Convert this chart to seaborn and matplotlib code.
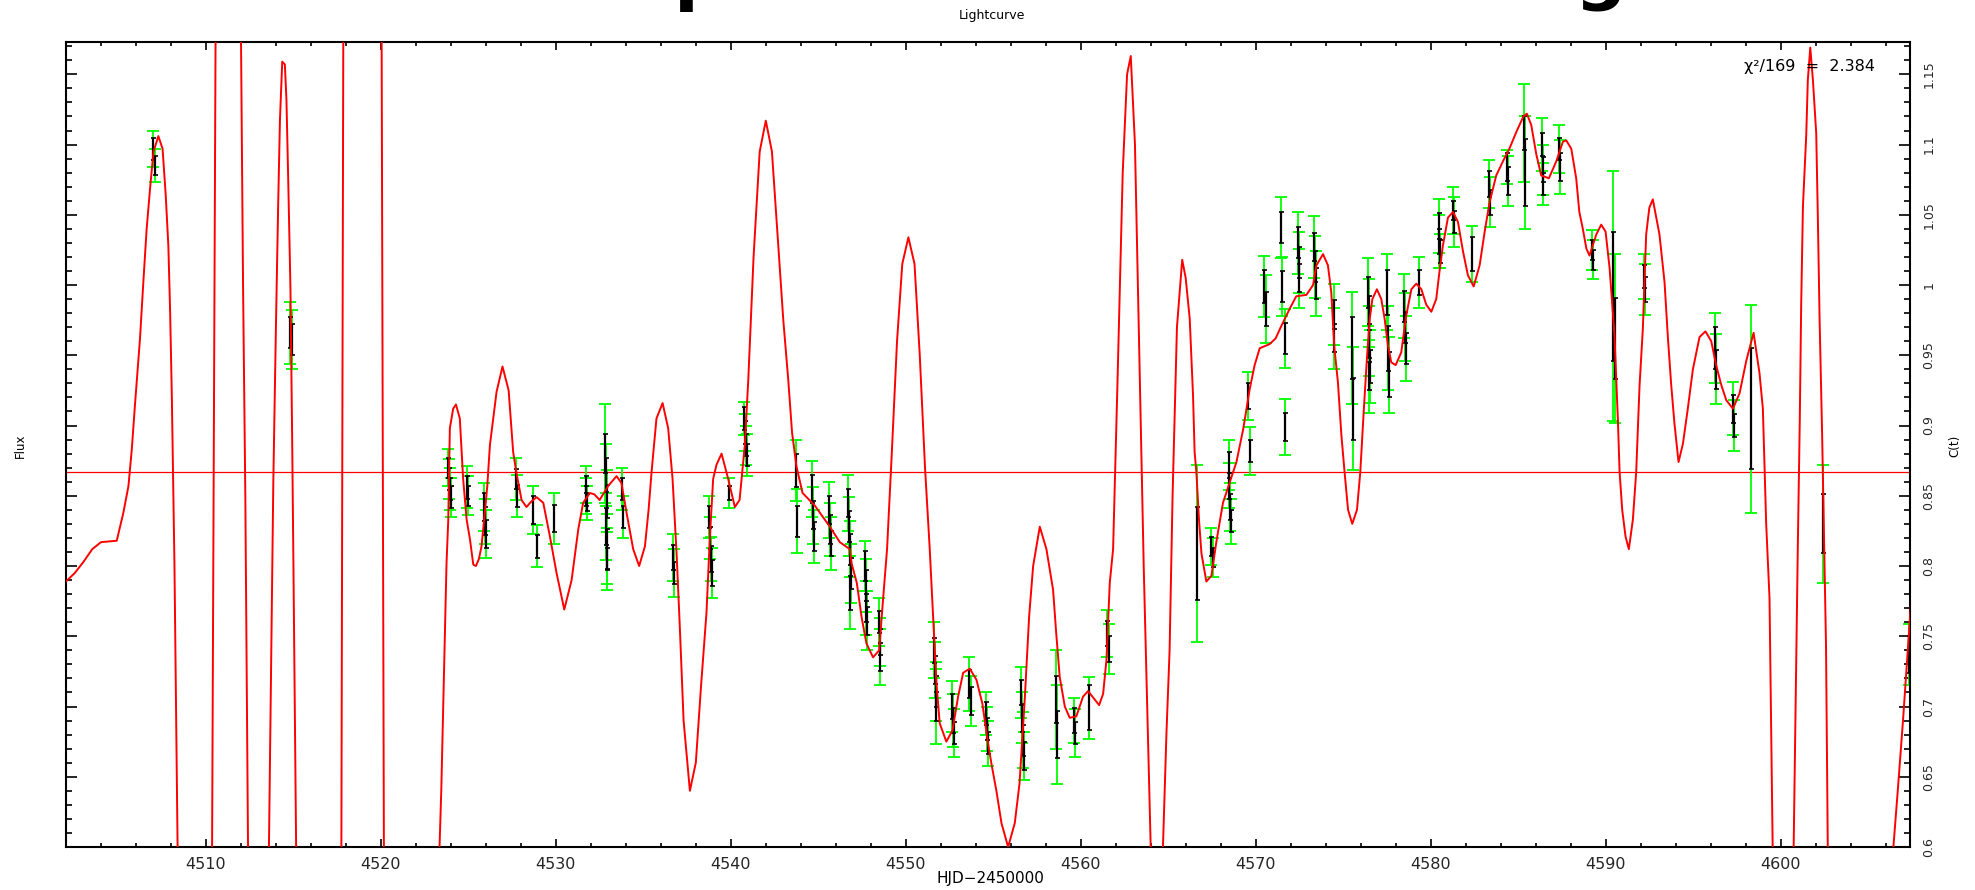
import numpy as np
import matplotlib
matplotlib.use("Agg")
import matplotlib.pyplot as plt
import seaborn as sns
from matplotlib.ticker import MultipleLocator, FuncFormatter

# ---- observations: time, flux, statistical error (black), total error (green)
obs_hjd = [
    4507.0, 4507.1,
    4514.8, 4514.9,
    4523.85, 4523.9, 4523.95, 4524.0, 4524.9, 4524.95,
    4525.9, 4525.95, 4526.0, 4527.7, 4527.8, 4528.7, 4528.9, 4529.9,
    4531.7, 4531.75, 4531.8, 4532.8, 4532.85, 4532.9, 4532.85, 4532.9, 4532.95,
    4533.8, 4533.85, 4536.7, 4536.75,
    4538.75, 4538.8, 4538.85, 4538.9, 4539.9,
    4540.75, 4540.8, 4540.85, 4540.9,
    4543.7, 4543.8, 4544.65, 4544.7, 4544.75, 4545.6, 4545.65, 4545.7,
    4546.7, 4546.75, 4546.8, 4546.85, 4546.8,
    4547.65, 4547.7, 4547.75, 4547.8, 4548.45, 4548.5, 4548.55,
    4551.6, 4551.65, 4551.7, 4551.75, 4552.65, 4552.7, 4552.75,
    4553.6, 4553.7, 4554.6, 4554.65, 4554.7,
    4556.6, 4556.65, 4556.7, 4556.75, 4558.6, 4558.65,
    4559.6, 4559.7, 4560.5, 4561.5, 4561.6,
    4566.65, 4567.45, 4567.55,
    4568.45, 4568.5, 4568.55, 4568.6, 4569.55, 4569.65,
    4570.5, 4570.6, 4571.45, 4571.5, 4571.65, 4571.7,
    4572.4, 4572.45, 4572.5, 4573.35, 4573.4, 4573.45,
    4574.45, 4574.5, 4575.5, 4575.55,
    4576.4, 4576.45, 4576.5, 4576.55, 4576.5,
    4577.5, 4577.55, 4577.6, 4578.5, 4578.55, 4578.6, 4579.35,
    4580.45, 4580.5, 4580.55, 4581.3, 4581.35, 4582.35,
    4583.35, 4583.4, 4584.35, 4584.4, 4585.35, 4585.4,
    4586.35, 4586.4, 4586.45, 4587.35, 4587.4,
    4589.25, 4589.3, 4590.4, 4590.55, 4592.2, 4592.25,
    4596.25, 4596.3, 4597.3, 4597.35, 4598.3, 4602.45,
    4607.35,
]
obs_flux = [
    1.097, 1.085,
    0.966, 0.961,
    0.870, 0.862, 0.855, 0.849, 0.856, 0.850,
    0.842, 0.832, 0.823, 0.862, 0.850, 0.840, 0.814, 0.834,
    0.858, 0.850, 0.845, 0.880, 0.865, 0.846, 0.828, 0.812, 0.805,
    0.855, 0.835, 0.806, 0.795,
    0.835, 0.820, 0.805, 0.795, 0.852,
    0.905, 0.895, 0.886, 0.879,
    0.868, 0.832, 0.855, 0.836, 0.821, 0.840, 0.826, 0.816,
    0.845, 0.828, 0.812, 0.795, 0.781,
    0.800, 0.786, 0.770, 0.761, 0.760, 0.746, 0.735,
    0.740, 0.726, 0.711, 0.700, 0.700, 0.690, 0.681,
    0.716, 0.704, 0.695, 0.684, 0.674,
    0.710, 0.692, 0.676, 0.665, 0.705, 0.680,
    0.690, 0.681, 0.699, 0.752, 0.741,
    0.809, 0.814, 0.806,
    0.872, 0.857, 0.842, 0.832, 0.921, 0.882,
    0.999, 0.983, 1.041, 0.999, 0.962, 0.899,
    1.030, 1.016, 1.005, 1.027, 1.013, 1.001,
    0.979, 0.962, 0.955, 0.912,
    0.995, 0.980, 0.960, 0.942, 0.935,
    0.995, 0.955, 0.936, 0.985, 0.970, 0.955, 1.002,
    1.042, 1.031, 1.024, 1.053, 1.045, 1.022,
    1.072, 1.059, 1.084, 1.074, 1.108, 1.080,
    1.100, 1.082, 1.072, 1.097, 1.084,
    1.025, 1.018, 0.992, 0.962, 1.006, 0.997,
    0.955, 0.940, 0.912, 0.900, 0.912, 0.830,
    0.737,
]
obs_err_stat = [
    0.008, 0.007,
    0.011, 0.011,
    0.007, 0.008, 0.008, 0.008, 0.008, 0.007,
    0.010, 0.010, 0.010, 0.007, 0.008, 0.010, 0.008, 0.0095,
    0.006, 0.007, 0.006, 0.014, 0.012, 0.012, 0.013, 0.014, 0.008,
    0.008, 0.008, 0.009, 0.008,
    0.008, 0.008, 0.009, 0.009, 0.005,
    0.008, 0.008, 0.008, 0.008,
    0.012, 0.011, 0.010, 0.010, 0.010, 0.010, 0.010, 0.009,
    0.010, 0.011, 0.011, 0.011, 0.012,
    0.011, 0.011, 0.010, 0.010, 0.008, 0.009, 0.010,
    0.009, 0.010, 0.011, 0.010, 0.009, 0.009, 0.008,
    0.010, 0.010, 0.008, 0.008, 0.008,
    0.009, 0.010, 0.011, 0.010, 0.017, 0.017,
    0.009, 0.008, 0.016, 0.009, 0.009,
    0.033, 0.007, 0.007,
    0.009, 0.009, 0.009, 0.008, 0.009, 0.008,
    0.012, 0.012, 0.011, 0.011, 0.011, 0.010,
    0.011, 0.011, 0.010, 0.010, 0.011, 0.011,
    0.010, 0.010, 0.022, 0.022,
    0.011, 0.012, 0.012, 0.012, 0.010,
    0.016, 0.016, 0.016, 0.011, 0.011, 0.011, 0.009,
    0.009, 0.009, 0.008, 0.007, 0.008, 0.012,
    0.009, 0.009, 0.010, 0.010, 0.012, 0.024,
    0.008, 0.009, 0.008, 0.008, 0.010,
    0.007, 0.007, 0.046, 0.029, 0.008, 0.009,
    0.015, 0.014, 0.010, 0.008, 0.043, 0.021,
    0.0135,
]
obs_err_total = [
    0.013, 0.012,
    0.022, 0.021,
    0.013, 0.014, 0.015, 0.014, 0.015, 0.014,
    0.017, 0.016, 0.017, 0.015, 0.015, 0.017, 0.015, 0.018,
    0.013, 0.013, 0.012, 0.035, 0.022, 0.022, 0.024, 0.025, 0.022,
    0.015, 0.015, 0.017, 0.017,
    0.015, 0.015, 0.016, 0.018, 0.011,
    0.012, 0.013, 0.014, 0.015,
    0.022, 0.023, 0.020, 0.020, 0.019, 0.020, 0.019, 0.019,
    0.020, 0.021, 0.020, 0.021, 0.026,
    0.018, 0.019, 0.019, 0.021, 0.017, 0.017, 0.020,
    0.020, 0.020, 0.021, 0.027, 0.018, 0.019, 0.017,
    0.019, 0.018, 0.015, 0.016, 0.016,
    0.018, 0.018, 0.020, 0.017, 0.035, 0.035,
    0.016, 0.017, 0.022, 0.017, 0.018,
    0.063, 0.013, 0.014,
    0.018, 0.016, 0.017, 0.016, 0.017, 0.017,
    0.022, 0.024, 0.022, 0.021, 0.021, 0.020,
    0.022, 0.022, 0.021, 0.022, 0.022, 0.023,
    0.022, 0.022, 0.040, 0.044,
    0.024, 0.024, 0.025, 0.026, 0.026,
    0.027, 0.030, 0.027, 0.023, 0.024, 0.023, 0.018,
    0.019, 0.019, 0.012, 0.017, 0.018, 0.020,
    0.017, 0.018, 0.012, 0.018, 0.035, 0.040,
    0.019, 0.018, 0.015, 0.017, 0.019,
    0.014, 0.014, 0.089, 0.060, 0.016, 0.018,
    0.025, 0.025, 0.019, 0.018, 0.074, 0.042,
    0.022,
]

# ---- fitted model curve (knots), extremes run off the plotted range
model_hjd = [
    4502.0, 4502.5, 4503.0, 4503.5, 4504.0, 4504.9, 4505.28, 4505.57, 4505.76,
    4505.95, 4506.23, 4506.42, 4506.61, 4506.8, 4507.0, 4507.28, 4507.52,
    4507.7, 4507.85, 4507.95, 4508.05, 4508.13, 4508.2, 4508.38, 4509.3,
    4510.35, 4510.55, 4511.3, 4512.0, 4512.12, 4512.25, 4512.4, 4513.0,
    4513.6, 4513.85, 4514.0, 4514.13, 4514.23, 4514.36, 4514.51, 4514.6,
    4514.7, 4514.83, 4514.93, 4515.0, 4515.15, 4516.4, 4517.74, 4517.85,
    4519.0, 4520.04, 4520.17, 4521.8, 4523.35, 4523.45, 4523.66, 4523.75,
    4523.85, 4523.94, 4524.13, 4524.29, 4524.51, 4524.7, 4524.9, 4525.09,
    4525.28, 4525.43, 4525.6, 4525.75, 4525.94, 4526.08, 4526.23, 4526.42,
    4526.61, 4526.95, 4527.3, 4527.56, 4527.75, 4528.04, 4528.32, 4528.6,
    4528.9, 4529.28, 4529.66, 4530.04, 4530.48, 4530.9, 4531.28, 4531.56,
    4531.94, 4532.2, 4532.5, 4532.99, 4533.47, 4533.75, 4534.04, 4534.42,
    4534.76, 4535.09, 4535.3, 4535.47, 4535.75, 4536.1, 4536.42, 4536.67,
    4536.9, 4537.09, 4537.3, 4537.66, 4538.0, 4538.3, 4538.61, 4538.8,
    4538.99, 4539.18, 4539.47, 4539.85, 4540.23, 4540.5, 4540.8, 4541.0,
    4541.3, 4541.65, 4542.0, 4542.35, 4542.7, 4543.0, 4543.28, 4543.5,
    4543.75, 4544.1, 4544.8, 4545.66, 4546.23, 4546.8, 4546.9, 4547.2,
    4547.47, 4547.75, 4548.13, 4548.48, 4548.7, 4548.93, 4549.2, 4549.5,
    4549.8, 4550.15, 4550.5, 4550.8, 4551.1, 4551.37, 4551.56, 4551.75,
    4551.94, 4552.32, 4552.67, 4552.99, 4553.28, 4553.66, 4554.04, 4554.38,
    4554.7, 4554.9, 4555.18, 4555.47, 4555.85, 4556.23, 4556.5, 4556.8,
    4557.05, 4557.28, 4557.66, 4558.04, 4558.42, 4558.6, 4558.8, 4559.09,
    4559.37, 4559.75, 4560.13, 4560.42, 4560.8, 4561.05, 4561.28, 4561.47,
    4561.66, 4561.85, 4562.1, 4562.4, 4562.65, 4562.86, 4563.1, 4563.35,
    4563.6, 4563.8, 4564.0, 4564.35, 4564.7, 4564.9, 4565.08, 4565.25,
    4565.5, 4565.8, 4566.0, 4566.23, 4566.42, 4566.51, 4566.61, 4566.76,
    4566.9, 4567.18, 4567.47, 4567.75, 4568.13, 4568.5, 4568.9, 4569.28,
    4569.66, 4569.94, 4570.23, 4570.8, 4571.14, 4571.47, 4571.94, 4572.32,
    4572.9, 4573.28, 4573.47, 4573.85, 4574.13, 4574.32, 4574.5, 4574.7,
    4574.9, 4575.08, 4575.28, 4575.52, 4575.79, 4575.98, 4576.17, 4576.36,
    4576.52, 4576.67, 4576.93, 4577.18, 4577.37, 4577.56, 4577.75, 4578.0,
    4578.32, 4578.6, 4578.9, 4579.18, 4579.47, 4579.75, 4580.04, 4580.32,
    4580.5, 4580.7, 4580.99, 4581.28, 4581.56, 4581.85, 4582.13, 4582.46,
    4582.8, 4583.09, 4583.37, 4583.75, 4584.13, 4584.5, 4584.9, 4585.3,
    4585.5, 4585.75, 4586.04, 4586.32, 4586.76, 4587.18, 4587.56, 4587.75,
    4588.04, 4588.32, 4588.5, 4588.7, 4588.9, 4589.08, 4589.47, 4589.75,
    4590.0, 4590.23, 4590.51, 4590.7, 4590.8, 4590.95, 4591.14, 4591.33,
    4591.56, 4591.75, 4591.94, 4592.13, 4592.32, 4592.5, 4592.7, 4593.08,
    4593.37, 4593.56, 4593.75, 4593.94, 4594.17, 4594.42, 4594.7, 4594.99,
    4595.37, 4595.71, 4596.04, 4596.32, 4596.61, 4596.9, 4597.28, 4597.66,
    4598.04, 4598.46, 4598.8, 4598.99, 4599.18, 4599.37, 4599.55, 4600.15,
    4600.75, 4600.99, 4601.1, 4601.18, 4601.28, 4601.47, 4601.56, 4601.7,
    4601.85, 4602.04, 4602.13, 4602.23, 4602.38, 4602.51, 4602.6, 4602.7,
    4604.6, 4606.45, 4606.7, 4607.0, 4607.3, 4607.6,
]
model_flux = [
    0.789, 0.795, 0.803, 0.812, 0.817, 0.818, 0.838, 0.857, 0.883,
    0.916, 0.962, 1.002, 1.040, 1.068, 1.095, 1.106, 1.097,
    1.064, 1.028, 0.982, 0.920, 0.855, 0.800, 0.600, -0.5,
    0.600, 1.180, 2.2, 1.180, 1.000, 0.850, 0.600, -0.2,
    0.600, 0.860, 0.971, 1.059, 1.118, 1.159, 1.157, 1.132,
    1.076, 0.997, 0.887, 0.800, 0.600, -0.8, 0.600, 1.180,
    2.5, 1.180, 0.600, -0.8, 0.600, 0.640, 0.755, 0.802,
    0.833, 0.898, 0.912, 0.915, 0.905, 0.862, 0.833, 0.819,
    0.801, 0.800, 0.805, 0.814, 0.838, 0.857, 0.886, 0.905,
    0.924, 0.942, 0.925, 0.881, 0.866, 0.847, 0.842, 0.846,
    0.849, 0.845, 0.821, 0.795, 0.769, 0.790, 0.826, 0.845,
    0.852, 0.851, 0.847, 0.857, 0.864, 0.859, 0.838, 0.812,
    0.800, 0.814, 0.840, 0.867, 0.905, 0.916, 0.898, 0.862,
    0.809, 0.755, 0.690, 0.640, 0.660, 0.715, 0.767, 0.820,
    0.862, 0.872, 0.880, 0.862, 0.842, 0.847, 0.886, 0.933,
    1.020, 1.095, 1.117, 1.095, 1.030, 0.975, 0.933, 0.895,
    0.871, 0.852, 0.843, 0.828, 0.817, 0.812, 0.802, 0.788,
    0.764, 0.745, 0.735, 0.740, 0.776, 0.812, 0.880, 0.960,
    1.015, 1.034, 1.015, 0.950, 0.870, 0.812, 0.764, 0.717,
    0.688, 0.675, 0.683, 0.707, 0.724, 0.727, 0.719, 0.702,
    0.674, 0.659, 0.640, 0.617, 0.600, 0.617, 0.645, 0.705,
    0.764, 0.800, 0.828, 0.812, 0.783, 0.752, 0.721, 0.700,
    0.692, 0.693, 0.707, 0.711, 0.705, 0.701, 0.709, 0.733,
    0.788, 0.812, 0.930, 1.080, 1.150, 1.163, 1.100, 0.950,
    0.800, 0.700, 0.600, 0.520, 0.600, 0.681, 0.740, 0.850,
    0.970, 1.018, 1.005, 0.976, 0.921, 0.881, 0.867, 0.833,
    0.809, 0.789, 0.793, 0.817, 0.845, 0.859, 0.874, 0.897,
    0.926, 0.943, 0.955, 0.958, 0.962, 0.971, 0.983, 0.992,
    0.993, 1.000, 1.014, 1.022, 1.014, 0.995, 0.955, 0.931,
    0.893, 0.867, 0.840, 0.830, 0.840, 0.867, 0.909, 0.948,
    0.976, 0.990, 0.997, 0.990, 0.976, 0.957, 0.945, 0.943,
    0.952, 0.978, 0.997, 1.001, 0.997, 0.986, 0.981, 0.990,
    1.009, 1.028, 1.048, 1.052, 1.045, 1.024, 1.007, 0.999,
    1.014, 1.038, 1.059, 1.078, 1.088, 1.097, 1.109, 1.120,
    1.122, 1.114, 1.093, 1.078, 1.076, 1.088, 1.102, 1.103,
    1.097, 1.076, 1.052, 1.040, 1.026, 1.021, 1.036, 1.043,
    1.038, 1.012, 0.964, 0.905, 0.867, 0.840, 0.821, 0.812,
    0.833, 0.867, 0.928, 0.969, 1.036, 1.055, 1.061, 1.036,
    1.002, 0.963, 0.929, 0.901, 0.874, 0.887, 0.912, 0.940,
    0.963, 0.967, 0.960, 0.943, 0.929, 0.918, 0.912, 0.923,
    0.946, 0.966, 0.937, 0.912, 0.830, 0.777, 0.600, 0.350,
    0.600, 0.816, 0.904, 0.986, 1.056, 1.107, 1.146, 1.169,
    1.146, 1.108, 1.050, 0.977, 0.892, 0.805, 0.743, 0.600,
    -0.3, 0.600, 0.640, 0.690, 0.745, 0.800,
]

mean_flux = 0.867
chi2_text = "χ²/169  =  2.384"
x_range = (4502.0, 4607.4)
y_range = (0.6, 1.173)

sns.set_theme(style="white")
plt.rcParams["font.family"] = ["DejaVu Sans"]

W, H = 1975, 890
fig = plt.figure(figsize=(W / 100, H / 100), dpi=100)
ax = fig.add_axes([66 / W, 43 / H, 1844 / W, 805 / H])

# total (outer) and statistical (inner) error bars
ax.errorbar(obs_hjd, obs_flux, yerr=obs_err_total, fmt="none", ecolor="#00ff00",
            elinewidth=1.3, capsize=4.6, capthick=1.3, zorder=2)
ax.errorbar(obs_hjd, obs_flux, yerr=obs_err_stat, fmt="none", ecolor="black",
            elinewidth=1.6, capsize=1.8, capthick=1.2, zorder=3)

# model light curve and mean level
sns.lineplot(x=model_hjd, y=model_flux, ax=ax, color="red", linewidth=1.4,
             estimator=None, sort=False, zorder=4)
ax.axhline(mean_flux, color="red", linewidth=0.9, zorder=1)

ax.set_xlim(*x_range)
ax.set_ylim(*y_range)
ax.set_xlabel("")
ax.set_ylabel("")

ax.xaxis.set_major_locator(MultipleLocator(10))
ax.xaxis.set_minor_locator(MultipleLocator(2))
ax.yaxis.set_major_locator(MultipleLocator(0.05))
ax.yaxis.set_minor_locator(MultipleLocator(0.01))
ax.xaxis.set_major_formatter(FuncFormatter(lambda v, p: f"{v:.0f}"))
ax.yaxis.set_major_formatter(FuncFormatter(lambda v, p: f"{round(v, 2):g}"))

ax.tick_params(which="both", direction="in", top=True, bottom=True,
               left=True, right=True, labelleft=False, labelright=True,
               labeltop=False, labelbottom=True, color="black", width=1.2)
ax.tick_params(axis="x", which="major", length=6, pad=7, labelsize=11.5)
ax.tick_params(axis="x", which="minor", length=3)
ax.tick_params(axis="y", which="major", length=8, pad=9, labelsize=9,
               labelrotation=90)
ax.tick_params(axis="y", which="minor", length=4)
for lbl in ax.get_yticklabels():
    lbl.set_verticalalignment("center")

for s in ax.spines.values():
    s.set_color("black")
    s.set_linewidth(1.5)

fig.text(1875 / W, 1 - 67 / H, chi2_text, ha="right", va="center",
         fontsize=11.5, color="black")

fig.text(992 / W, 1 - 15 / H, "Lightcurve", ha="center", va="center",
         fontsize=9, color="black")
fig.text(990 / W, 1 - 879 / H, "HJD−2450000", ha="center", va="center",
         fontsize=11, color="black")
fig.text(20 / W, 1 - 446 / H, "Flux", ha="center", va="center",
         rotation=90, fontsize=8.5, color="black")
fig.text(1955 / W, 1 - 446 / H, "C(t)", ha="center", va="center",
         rotation=90, fontsize=8.5, color="black")

# descenders of the page heading that sits just above the figure
fig.text(674 / W, 1 + 3 / H, "p", ha="left", va="baseline",
         fontsize=52, fontweight="bold", color="black")
fig.text(1575 / W, 1 + 3 / H, "g", ha="left", va="baseline",
         fontsize=52, fontweight="bold", color="black")

fig.savefig("out.png", dpi=100, facecolor="white")
